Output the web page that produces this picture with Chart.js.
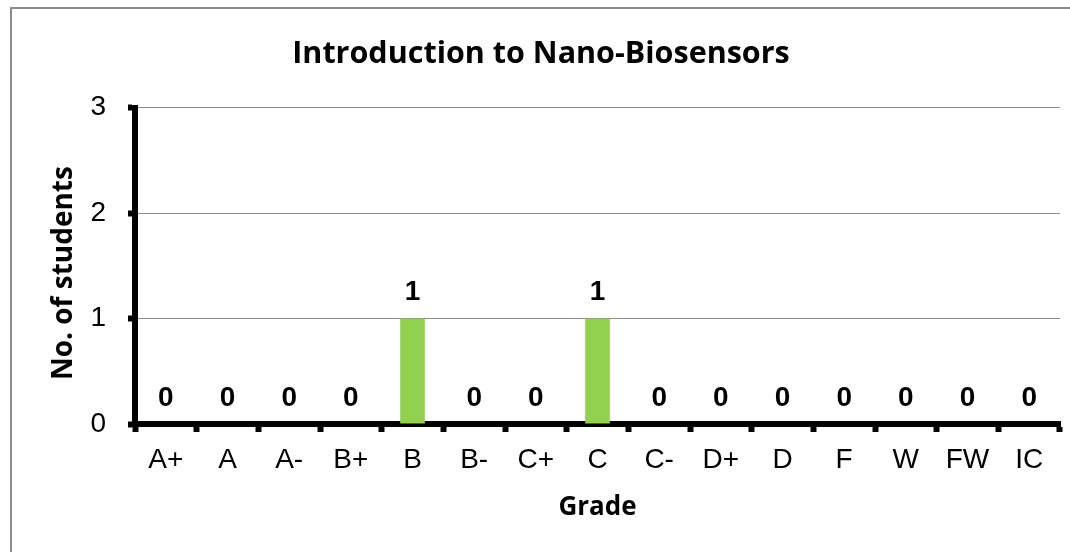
<!DOCTYPE html>
<html>
<head>
<meta charset="utf-8">
<script src="https://cdn.jsdelivr.net/npm/chart.js@4"></script>
<style>
  body { margin: 0; background: #fff; }
  #wrap { position: relative; width: 1070px; height: 552px; }
</style>
</head>
<body>
<div id="wrap"><canvas id="myChart" width="1070" height="552"></canvas></div>
<script>
// data
var grades = ['A+', 'A', 'A-', 'B+', 'B', 'B-', 'C+', 'C', 'C-', 'D+', 'D', 'F', 'W', 'FW', 'IC'];
var students = [0, 0, 0, 0, 1, 0, 0, 1, 0, 0, 0, 0, 0, 0, 0];
var yTicks = [0, 1, 2, 3];

var calibri = "'Open Sans', 'Noto Sans', sans-serif";
var arial = "'Liberation Sans', Arial, sans-serif";

// outer frame
var framePlugin = {
    id: 'frame',
    beforeDraw: function (chart) {
        var ctx = chart.ctx;
        ctx.save();
        ctx.fillStyle = '#fff';
        ctx.fillRect(0, 0, chart.width, chart.height);
        ctx.strokeStyle = '#8c8c8c';
        ctx.lineWidth = 2;
        ctx.strokeRect(11, 8, 1200, 700);
        ctx.restore();
    }
};

// value labels above bars
var labelPlugin = {
    id: 'valueLabels',
    afterDatasetsDraw: function (chart) {
        var ctx = chart.ctx;
        var meta = chart.getDatasetMeta(0);
        ctx.save();
        ctx.font = 'bold 28px ' + arial;
        ctx.fillStyle = '#000';
        ctx.textAlign = 'center';
        ctx.textBaseline = 'middle';
        for (var i in meta.data) {
            var bar = meta.data[i];
            ctx.fillText(students[i], bar.x, bar.y - 26);
        }
        ctx.restore();
    }
};

var ctx = document.getElementById('myChart');
var myChart = new Chart(ctx, {
    type: 'bar',
    data: {
        labels: grades,
        datasets: [{
            data: students,
            backgroundColor: '#92d050',
            barPercentage: 0.4,
            categoryPercentage: 1
        }]
    },
    options: {
        responsive: false,
        animation: false,
        layout: { padding: { left: 22, right: 10, top: 0, bottom: 0 } },
        plugins: {
            legend: { display: false },
            tooltip: { enabled: false },
            title: {
                display: true,
                text: 'Introduction to Nano-Biosensors',
                color: '#000',
                font: { family: calibri, size: 30.5, weight: 'bold' },
                padding: { top: 36, bottom: 35 }
            }
        },
        scales: {
            x: {
                afterFit: function (scale) { scale.height = 128; },
                grid: {
                    offset: true,
                    drawOnChartArea: false,
                    tickLength: 8,
                    tickWidth: 6,
                    tickColor: '#000'
                },
                border: { display: true, color: '#000', width: 6 },
                ticks: {
                    color: '#000',
                    padding: 11,
                    maxRotation: 0,
                    autoSkip: false,
                    font: { family: arial, size: 28 }
                },
                title: {
                    display: true,
                    text: 'Grade',
                    color: '#000',
                    font: { family: calibri, size: 26, weight: 'bold' },
                    padding: { top: 0, bottom: 29 }
                }
            },
            y: {
                min: yTicks[0],
                max: yTicks[yTicks.length - 1],
                afterFit: function (scale) { scale.width = 113; },
                afterBuildTicks: function (scale) {
                    scale.ticks = yTicks.map(function (v) { return { value: v }; });
                },
                grid: {
                    color: '#8c8c8c',
                    lineWidth: 1,
                    tickLength: 7,
                    tickWidth: 6,
                    tickColor: '#000'
                },
                border: { display: true, color: '#000', width: 6 },
                ticks: {
                    color: '#000',
                    padding: 22,
                    font: { family: arial, size: 28 }
                },
                title: {
                    display: true,
                    text: 'No. of students  ',
                    color: '#000',
                    font: { family: calibri, size: 28, weight: 'bold' },
                    padding: { top: 25, bottom: 0 }
                }
            }
        }
    },
    plugins: [framePlugin, labelPlugin]
});
</script>
</body>
</html>
